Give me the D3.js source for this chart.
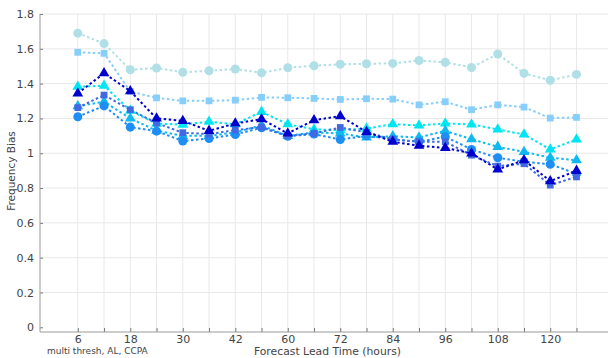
<!DOCTYPE html>
<html><head><meta charset="utf-8">
<script src="https://cdn.jsdelivr.net/npm/d3@7"></script>
<style>body{margin:0;background:#fff}svg{display:block}text{font-family:"DejaVu Sans",sans-serif}</style>
</head><body><svg id="c" width="610" height="358"></svg>
<script>
const leadTimes = ["6","12","18","24","30","36","42","48","60","66","72","78","84","90","96","102","108","114","120","126"];
const labelledTicks = ["6","18","30","42","60","72","84","96","108","120"];
const yTicks = [0,0.2,0.4,0.6,0.8,1,1.2,1.4,1.6,1.8];
const seriesNames = ["t1","t2","t3","t4","t5","t6","t7"];
const seriesColors = ["#b0e0e6","#87cefa","#00e5f2","#10b8f0","#1e8ef5","#4169e1","#0000cd"];
const seriesShapes = ["circle","square","triangle","triangle","circle","square","triangle"];
const t1 = [1.69,1.63,1.48,1.49,1.465,1.474,1.484,1.462,1.491,1.503,1.511,1.514,1.516,1.533,1.522,1.493,1.57,1.459,1.419,1.453];
const t2 = [1.58,1.574,1.355,1.318,1.301,1.301,1.305,1.321,1.319,1.315,1.309,1.313,1.311,1.278,1.296,1.25,1.278,1.265,1.202,1.206];
const t3 = [1.382,1.388,1.245,1.17,1.165,1.181,1.167,1.238,1.167,1.137,1.133,1.142,1.167,1.16,1.171,1.166,1.137,1.108,1.022,1.079];
const t4 = [1.27,1.296,1.2,1.13,1.1,1.1,1.12,1.16,1.1,1.12,1.114,1.091,1.098,1.091,1.129,1.081,1.037,1.008,0.974,0.96];
const t5 = [1.21,1.272,1.15,1.127,1.07,1.085,1.108,1.146,1.098,1.11,1.079,1.1,1.08,1.066,1.095,1.022,0.974,0.951,0.937,0.882];
const t6 = [1.262,1.334,1.25,1.173,1.118,1.11,1.133,1.15,1.1,1.114,1.148,1.12,1.08,1.066,1.066,0.989,0.926,0.94,0.817,0.864];
const t7 = [1.344,1.46,1.357,1.2,1.186,1.129,1.171,1.196,1.114,1.19,1.213,1.123,1.066,1.043,1.031,0.999,0.907,0.96,0.84,0.899];
const seriesValues = [t1,t2,t3,t4,t5,t6,t7];

const svg = d3.select("#c");
const x = d3.scaleLinear().domain([-1.44, 20.2]).range([40, 608]);
const y = d3.scaleLinear().domain([0, 1.8]).range([327.3, 14]);
const yBottom = 332, yTop = 14, xLeft = 40, xRight = 608;

// grid
const g = svg.append("g");
g.selectAll("line.v").data(leadTimes).join("line")
  .attr("x1",(d,i)=>x(i)).attr("x2",(d,i)=>x(i)).attr("y1",yTop).attr("y2",yBottom)
  .attr("stroke","#e8e8e8").attr("stroke-width",1);
g.selectAll("line.h").data(yTicks.filter(v=>v>0)).join("line")
  .attr("x1",xLeft).attr("x2",xRight).attr("y1",d=>y(d)).attr("y2",d=>y(d))
  .attr("stroke","#e8e8e8").attr("stroke-width",1);

// axes
const xAxis = d3.axisBottom(d3.scalePoint().domain(leadTimes).range([x(0), x(leadTimes.length-1)]))
  .tickSizeInner(-4).tickSizeOuter(0).tickPadding(3)
  .tickFormat(d=>labelledTicks.includes(d)?d:"");
const xa = svg.append("g").attr("transform",`translate(0,${yBottom})`).call(xAxis);
xa.select(".domain").remove();
xa.append("line").attr("x1",xLeft).attr("x2",xRight).attr("stroke","#999");
xa.selectAll(".tick line").attr("stroke","#777");
xa.selectAll("text").attr("fill","#444").style("font-size","11px").style("font-family","DejaVu Sans");

const yAxis = d3.axisLeft(y).tickValues(yTicks).tickSizeInner(-3).tickSizeOuter(0).tickPadding(6)
  .tickFormat(d=>d===0||d===1?String(d):d3.format(".1f")(d));
const ya = svg.append("g").attr("transform",`translate(${xLeft},0)`).call(yAxis);
ya.select(".domain").remove();
ya.append("line").attr("y1",yTop).attr("y2",yBottom).attr("stroke","#999");
ya.selectAll(".tick line").attr("stroke","#777");
ya.selectAll("text").attr("fill","#444").style("font-size","11px").style("font-family","DejaVu Sans");

// series
const line = d3.line().x((d,i)=>x(i)).y(d=>y(d));
const sym = {circle:d3.symbolCircle, square:d3.symbolSquare, triangle:d3.symbolTriangle};
const symSize = {circle:64, square:46, triangle:50};
seriesValues.forEach((vals,k)=>{
  const col = seriesColors[k], shp = seriesShapes[k];
  const sg = svg.append("g");
  sg.append("path").datum(vals).attr("d",line).attr("fill","none")
    .attr("stroke",col).attr("stroke-width",2).attr("stroke-dasharray","2.5,2.5");
  sg.selectAll("path.m").data(vals).join("path").attr("class","m")
    .attr("transform",(d,i)=>`translate(${x(i)},${y(d)})`)
    .attr("d",d3.symbol().type(sym[shp]).size(symSize[shp]))
    .attr("fill",col);
});

// labels
svg.append("text").attr("transform","translate(15,171) rotate(-90)").attr("text-anchor","middle")
  .attr("fill","#444").style("font-size","10.5px").text("Frequency Bias");
svg.append("text").attr("x",327.5).attr("y",355).attr("text-anchor","middle")
  .attr("fill","#444").style("font-size","10.8px").text("Forecast Lead Time (hours)");
svg.append("text").attr("x",47).attr("y",354).attr("fill","#444")
  .style("font-size","9px").text("multi thresh, AL, CCPA");
</script></body></html>
